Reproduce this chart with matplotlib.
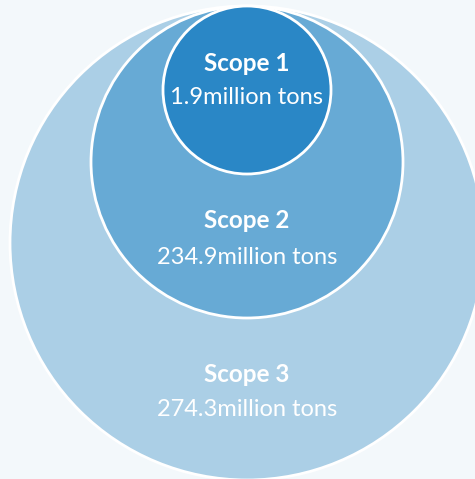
import matplotlib
matplotlib.use("Agg")
import matplotlib.pyplot as plt
from matplotlib.patches import Circle

scopes = ["Scope 3", "Scope 2", "Scope 1"]
emissions = [274.3, 234.9, 1.9]  # million tons
colors = ["#abcfe6", "#67aad5", "#2a87c6"]

# layout (pixels): radii of nested circles, all touching at the top
radii = [237, 156, 84]
top_y = 6
center_x = 247
title_y = [374, 220, 63]
value_y = [409, 257, 97]

fig = plt.figure(figsize=(4.75, 4.79), dpi=100)
fig.patch.set_facecolor("#f3f8fb")
ax = fig.add_axes([0, 0, 1, 1])
ax.set_xlim(0, 475)
ax.set_ylim(479, 0)
ax.set_aspect("equal")
ax.axis("off")

for i, (name, val) in enumerate(zip(scopes, emissions)):
    r = radii[i]
    ax.add_patch(Circle((center_x, top_y + r), r, facecolor=colors[i],
                        edgecolor="white", linewidth=2, zorder=i + 1))
    ax.text(center_x, title_y[i], name, ha="center", va="center",
            fontsize=17.5, fontweight="bold", color="white",
            family="Lato", zorder=10)
    ax.text(center_x, value_y[i], f"{val}million tons", ha="center",
            va="center", fontsize=17, fontweight="normal", color="white",
            family="Lato", zorder=10)

fig.savefig("out.png", dpi=100, facecolor=fig.get_facecolor())
